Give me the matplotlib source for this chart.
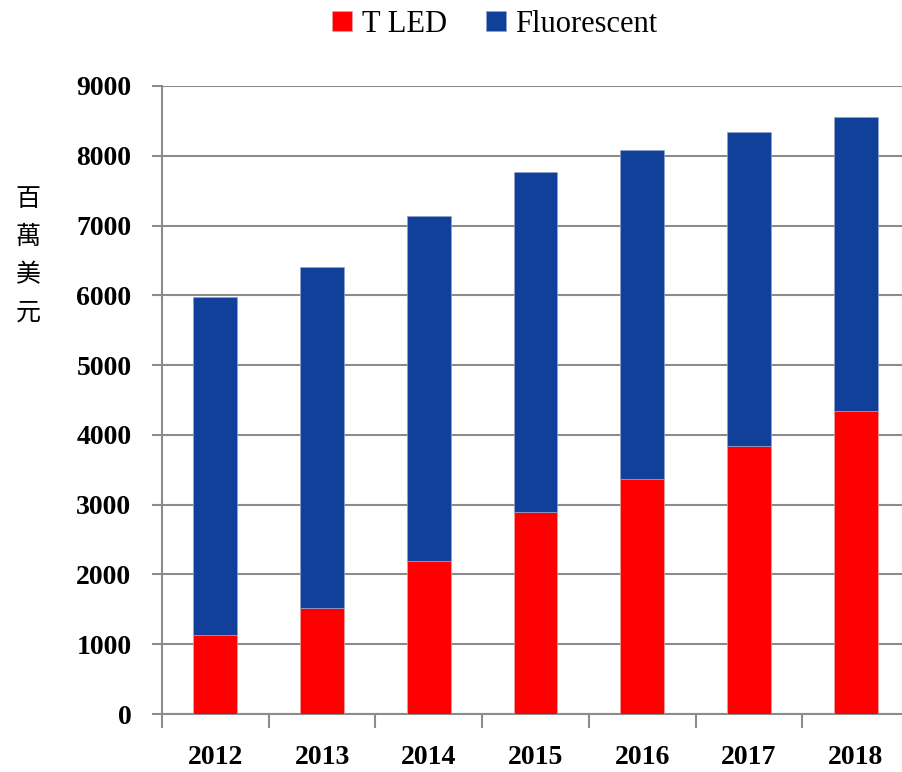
import matplotlib
matplotlib.use("Agg")
import matplotlib.pyplot as plt
import numpy as np

years = ["2012", "2013", "2014", "2015", "2016", "2017", "2018"]
tled = [1130, 1515, 2195, 2890, 3365, 3845, 4340]
totals = [5980, 6405, 7135, 7770, 8085, 8335, 8560]
fluorescent = [t - l for t, l in zip(totals, tled)]

red = "#FF0000"
blue = "#11409B"
grid_c = "#8C8C8C"
serif = ["Liberation Serif", "DejaVu Serif"]

fig = plt.figure(figsize=(9.03, 7.72), dpi=100)
ax = fig.add_axes([162 / 903, 58 / 772, 747 / 903, 628 / 772])

x = np.arange(len(years))
ax.bar(x, tled, width=0.41, color=red, edgecolor="#E8A0A0", linewidth=0.5, zorder=3, label="T LED")
ax.bar(x, fluorescent, bottom=tled, width=0.41, color=blue, edgecolor="#8FA3CC", linewidth=0.5,
       zorder=3, label="Fluorescent")

ax.set_xlim(-0.5, len(years) - 0.5)
ax.set_ylim(0, 9000)
ax.set_yticks(range(0, 9001, 1000))
ax.yaxis.grid(True, color=grid_c, linewidth=1.5, zorder=0)
for s in ["top", "right"]:
    ax.spines[s].set_visible(False)
ax.spines["left"].set_color(grid_c)
ax.spines["left"].set_linewidth(1.5)
ax.spines["bottom"].set_color(grid_c)
ax.spines["bottom"].set_linewidth(1.5)

# category ticks sit between bars
ax.set_xticks(np.arange(-0.5, len(years), 1.0), minor=False)
ax.set_xticklabels([])
ax.set_xticks(x, minor=True)
ax.set_xticklabels(years, minor=True, fontsize=20, fontweight="bold", family=serif)
ax.tick_params(axis="x", which="major", length=10, width=1.5, color=grid_c, direction="out")
ax.tick_params(axis="x", which="minor", length=0, pad=22)
ax.tick_params(axis="y", length=7, width=1.5, color=grid_c, direction="out", pad=15)
for lbl in ax.get_yticklabels():
    lbl.set_fontsize(20)
    lbl.set_fontweight("bold")
    lbl.set_family(serif)

fig.text(28 / 903, 1 - 256 / 772, "\n".join("百萬美元"), ha="center", va="center",
         fontsize=18, linespacing=1.6, family=["Noto Sans CJK TC", "DejaVu Sans"])

fig.legend(loc="center", bbox_to_anchor=(495 / 903, 1 - 24 / 772), ncol=2, frameon=False,
           prop={"family": serif, "size": 22}, handlelength=0.65, handleheight=0.65,
           handletextpad=0.3, columnspacing=1.3)

plt.savefig("out.png", dpi=100)
